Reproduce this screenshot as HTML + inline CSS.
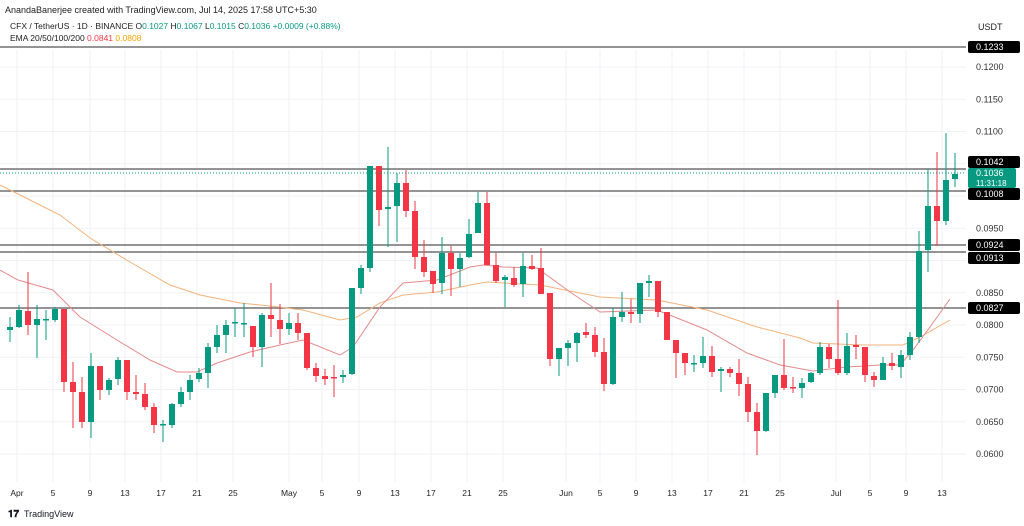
<!DOCTYPE html>
<html><head><meta charset="utf-8"><style>
html,body{margin:0;padding:0;background:#fff;width:1024px;height:526px;overflow:hidden}
svg{display:block;font-family:"Liberation Sans",sans-serif}
</style></head><body>
<svg id="s" width="1024" height="526" xmlns="http://www.w3.org/2000/svg">
<rect width="1024" height="526" fill="#fff"/>
<g id="grid" stroke="#f0f2f5" stroke-width="1"></g>
<g id="hl"></g>
<polyline id="ema50" fill="none" stroke="#f4b27a" stroke-width="1"/>
<polyline id="ema20" fill="none" stroke="#e58a8a" stroke-width="1"/>
<g id="c"></g>
<line x1="0" y1="173" x2="966" y2="173" stroke="#089981" stroke-width="1" stroke-dasharray="1,2"/>
<g id="ax" font-size="9" fill="#333"></g>
<g id="xl" font-size="8.5" fill="#222"></g>
<text x="5" y="13" font-size="9" fill="#222">AnandaBanerjee created with TradingView.com, Jul 14, 2025 17:58 UTC+5:30</text>
<text x="10" y="29" font-size="8.5" fill="#222">CFX / TetherUS · 1D · BINANCE <tspan>O</tspan><tspan fill="#089981">0.1027</tspan> H<tspan fill="#089981">0.1067</tspan> L<tspan fill="#089981">0.1015</tspan> C<tspan fill="#089981">0.1036</tspan> <tspan fill="#089981">+0.0009 (+0.88%)</tspan></text>
<text x="10" y="41" font-size="8.5" fill="#222">EMA 20/50/100/200 <tspan fill="#f23645">0.0841</tspan> <tspan fill="#f7a600">0.0808</tspan></text>
<text x="978" y="30" font-size="9" fill="#222">USDT</text>
<text x="8" y="517" font-size="10" font-weight="bold" fill="#131722">𝟏𝟕</text>
<text x="24" y="517" font-size="9" fill="#131722">TradingView</text>
</svg>
<script>
var N="http://www.w3.org/2000/svg";
function el(t,a,p){var e=document.createElementNS(N,t);for(var k in a)e.setAttribute(k,a[k]);document.getElementById(p).appendChild(e);return e;}
function Y(p){return 454-(p-0.06)*6450;}
// grid
var xs=[17,53,90,125,161,197,233,289,322,359,395,431,467,503,566,600,636,672,708,744,780,836,870,906,942];
xs.forEach(function(x){el('line',{x1:x,y1:50,x2:x,y2:482},'grid');});
[0.12,0.115,0.11,0.105,0.1,0.095,0.09,0.085,0.08,0.075,0.07,0.065,0.06].forEach(function(p){var y=Y(p);el('line',{x1:0,y1:y,x2:966,y2:y},'grid');});
// hlines
[[47],[169],[191],[245],[252],[308]].forEach(function(a){el('line',{x1:0,y1:a[0],x2:966,y2:a[0],stroke:'#555','stroke-width':1.2},'hl');});
// candles: [o,c,h,l] in pixel y
var d=[[330,327,317,342],[327,310,305,328],[311,325,272,335],[325,319,305,358],[319,319,310,340],[320,309,307,322],
[309,382,309,392],[382,392,362,428],[392,422,377,428],[422,366,353,438],[366,390,366,400],[390,380,378,395],[379,360,357,385],[360,392,360,400],
[392,394,375,400],[394,407,383,410],[407,425,403,433],[425,424,420,442],[425,404,403,428],[404,392,387,407],[392,380,375,400],[379,373,368,382],
[373,347,343,388],[347,335,325,353],[335,325,320,353],[323,322,308,337],[323,323,303,337],[326,347,326,357],[347,315,313,367],[315,319,283,337],
[320,329,304,344],[329,323,313,335],[323,333,313,340],[333,368,333,370],[368,376,363,382],[376,379,369,385],[377,378,365,397],[377,375,370,383],
[374,288,374,375],[288,268,265,294],[268,166,166,272],[166,210,166,226],[209,207,147,247],[206,183,173,242],[183,211,170,217],[211,257,201,269],
[257,272,240,277],[271,284,271,293],[283,253,237,294],[253,269,246,296],[269,258,253,287],[257,234,219,258],[233,203,192,233],[203,265,192,265],
[265,281,253,283],[280,277,275,307],[278,285,267,287],[284,266,253,297],[266,269,255,270],[268,294,248,294],[293,359,293,366],[359,348,348,376],
[348,343,340,366],[343,333,332,362],[332,335,323,338],[335,352,327,357],[352,384,338,391],[384,317,308,385],[317,312,292,322],[312,314,299,323],
[314,283,283,323],[283,281,275,297],[281,312,281,317],[312,340,312,340],[340,353,340,378],[353,363,353,375],[363,363,355,372],[363,356,337,368],
[356,372,346,377],[371,369,367,392],[369,373,367,377],[373,384,359,396],[384,412,377,422],[412,431,403,455],[431,393,393,432],[393,375,375,398],
[375,388,339,390],[387,388,377,393],[388,383,378,398],[382,373,372,383],[373,347,342,375],[347,359,344,368],[359,373,300,375],[373,346,333,375],
[345,347,335,359],[347,375,347,382],[376,380,372,387],[380,363,357,380],[363,366,353,370],[367,355,350,378],[355,337,332,360],[337,251,231,343],
[250,206,169,272],[206,221,152,246],[221,180,133,225],[179,174,153,187]];
d.forEach(function(c,i){var x=10+9*i,g=c[1]<=c[0],col=g?'#089981':'#f23645';
el('line',{x1:x,y1:c[2],x2:x,y2:c[3],stroke:col,'stroke-width':1},'c');
var t=Math.min(c[0],c[1]),h=Math.max(1.5,Math.abs(c[1]-c[0]));el('rect',{x:x-3,y:t,width:6,height:h,fill:col},'c');});
// EMAs
document.getElementById('ema20').setAttribute('points','0,270 18,280 53,290 80,317 117,340 150,360 177,372 197,372 217,363 250,352 280,345 303,340 340,355 353,347 380,307 403,283 437,280 470,267 483,265 503,267 537,268 570,292 600,312 657,310 707,330 747,353 780,365 813,371 847,367 880,365 900,365 913,350 930,327 950,299');
document.getElementById('ema50').setAttribute('points','0,185 30,200 60,215 90,238 130,262 170,285 200,295 240,303 270,306 303,310 340,320 357,317 380,303 403,295 437,292 470,285 487,282 540,285 600,297 657,300 707,310 757,327 800,338 813,343 863,345 903,345 920,337 950,320');
// axis labels
[['0.1200',0.12],['0.1150',0.115],['0.1100',0.11],['0.0950',0.095],['0.0850',0.085],['0.0800',0.08],['0.0750',0.075],['0.0700',0.07],['0.0650',0.065],['0.0600',0.06]].forEach(function(a){var t=el('text',{x:976,y:Y(a[1])+3},'ax');t.textContent=a[0];});
[['0.1233',47],['0.1042',162],['0.1008',194],['0.0924',245],['0.0913',258],['0.0827',308]].forEach(function(a){
el('rect',{x:968,y:a[1]-6,width:52,height:12,rx:2,fill:'#000'},'ax');var t=el('text',{x:976,y:a[1]+3,fill:'#fff'},'ax');t.textContent=a[0];});
el('rect',{x:968,y:168,width:48,height:20,rx:2,fill:'#089981'},'ax');
var t1=el('text',{x:976,y:176,fill:'#fff'},'ax');t1.textContent='0.1036';
var t2=el('text',{x:976,y:186,fill:'#fff','font-size':8},'ax');t2.textContent='11:31:18';
var lb=['Apr','5','9','13','17','21','25','May','5','9','13','17','21','25','Jun','5','9','13','17','21','25','Jul','5','9','13'];
lb.forEach(function(s,i){var t=el('text',{x:xs[i],y:496,'text-anchor':'middle'},'xl');t.textContent=s;});
</script>
</body></html>
